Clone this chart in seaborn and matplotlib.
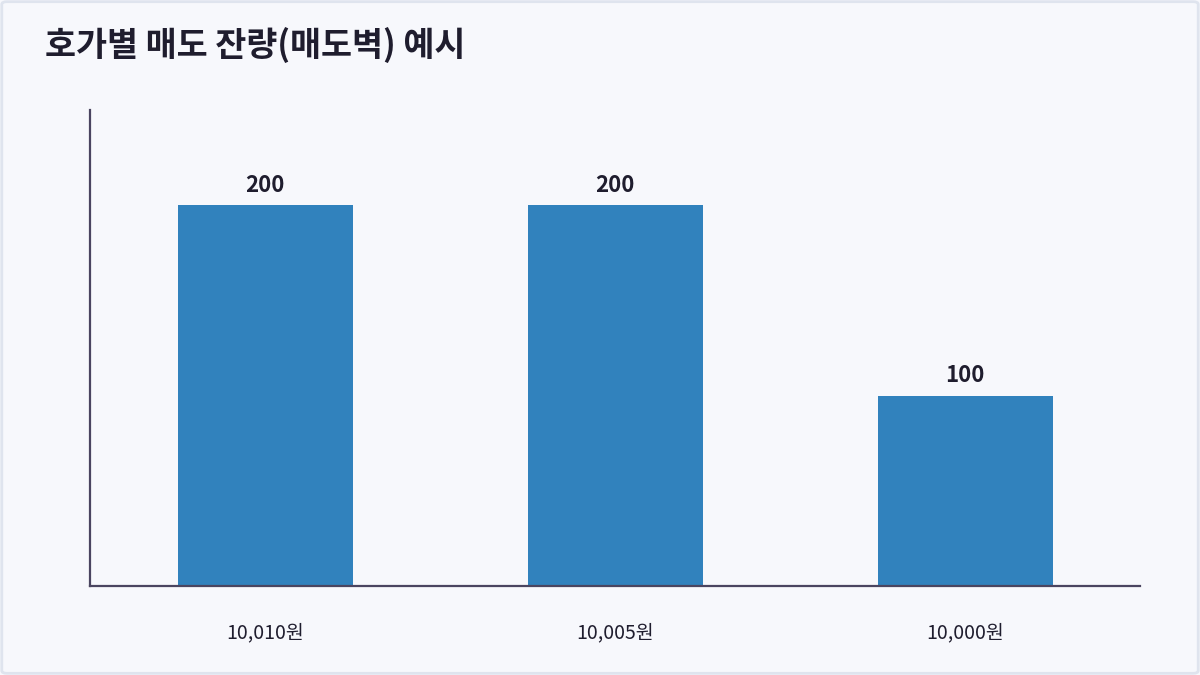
import matplotlib
matplotlib.use("Agg")
import matplotlib.pyplot as plt
from matplotlib.patches import FancyBboxPatch
import seaborn as sns
import pandas as pd

# 호가별 매도 잔량
prices = ["10,010원", "10,005원", "10,000원"]
volumes = [200, 200, 100]
title = "호가별 매도 잔량(매도벽) 예시"

bg = "#f7f8fc"
bar_color = "#3182bd"
axis_color = "#4a4560"
text_color = "#1f1d2e"

sns.set_style("white")
plt.rcParams["font.family"] = ["Noto Sans CJK KR", "DejaVu Sans"]

df = pd.DataFrame({"price": prices, "volume": volumes})

fig = plt.figure(figsize=(12, 6.75), dpi=100)
fig.patch.set_facecolor(bg)
ax = fig.add_axes([0.075, 0.1319, 0.875, 0.705])
ax.set_facecolor(bg)

sns.barplot(data=df, x="price", y="volume", color=bar_color, width=0.5,
            saturation=1, linewidth=0, ax=ax)

ax.set_xlim(-0.5, 2.5)
ax.set_ylim(0, 250)
ax.set_yticks([])
ax.set_xlabel("")
ax.set_ylabel("")
ax.tick_params(axis="x", length=0, pad=26, labelsize=14, colors=text_color)
for lab in ax.get_xticklabels():
    lab.set_fontweight("medium")

for side in ["top", "right"]:
    ax.spines[side].set_visible(False)
for side in ["left", "bottom"]:
    ax.spines[side].set_color(axis_color)
    ax.spines[side].set_linewidth(1.6)

# 막대 위 수치 표시
for i, v in enumerate(volumes):
    ax.annotate(f"{v}", xy=(i, v), xytext=(0, 6), textcoords="offset points",
                ha="center", va="bottom", fontsize=16, fontweight="bold",
                color=text_color)

fig.text(45 / 1200, 1 - 45 / 675, title, fontsize=24.3, fontweight="bold",
         color=text_color, ha="left", va="center")

border = FancyBboxPatch((0.0015, 0.0025), 0.997, 0.995,
                        boxstyle="round,pad=0,rounding_size=0.004",
                        transform=fig.transFigure, facecolor="none",
                        edgecolor="#dfe4ee", linewidth=2)
fig.patches.append(border)

fig.savefig("out.png", dpi=100, facecolor=bg)
